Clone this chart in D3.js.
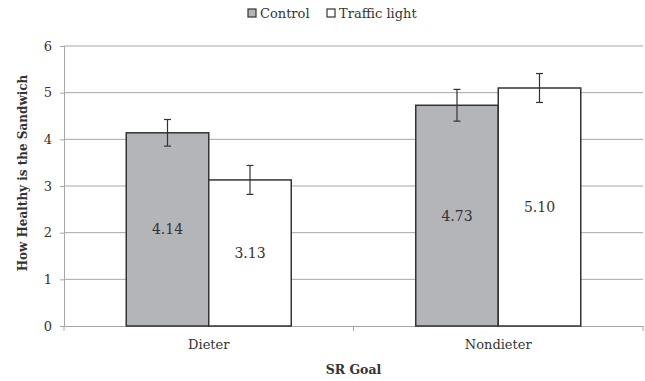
<!DOCTYPE html>
<html>
<head>
<meta charset="utf-8">
<script src="https://cdn.jsdelivr.net/npm/d3@7"></script>
<style>
  html, body { margin: 0; padding: 0; background: #fff; }
  svg { display: block; }
  svg text { font-family: "DejaVu Serif", serif !important; fill: #333; }
</style>
</head>
<body>
<svg id="chart" width="645" height="381"></svg>
<script>
// Chart data
const categories = ["Dieter", "Nondieter"];
const seriesNames = ["Control", "Traffic light"];
const controlValues = [4.14, 4.73];
const trafficValues = [3.13, 5.10];
const controlErrors = [0.285, 0.34];
const trafficErrors = [0.31, 0.31];
const yTicks = [0, 1, 2, 3, 4, 5, 6];
const xTitle = "SR Goal";
const yTitle = "How Healthy is the Sandwich";

const colors = { "Control": "#b4b5b9", "Traffic light": "#ffffff" };

const svg = d3.select("#chart");
const margin = { top: 46, right: 2, bottom: 55, left: 64 };
const W = 645, H = 381;
const innerW = W - margin.left - margin.right;
const innerH = H - margin.top - margin.bottom;

const g = svg.append("g").attr("transform", `translate(${margin.left},${margin.top})`);

const x0 = d3.scaleBand().domain(categories).range([0, innerW]).paddingInner(0).paddingOuter(0);
const groupW = x0.bandwidth() * 0.57;
const x1 = d3.scaleBand().domain(seriesNames).range([0, groupW]).padding(0);
const y = d3.scaleLinear().domain([0, 6]).range([innerH, 0]);

// Horizontal gridlines
g.append("g").selectAll("line").data(yTicks.slice(1)).join("line")
  .attr("x1", 0).attr("x2", innerW)
  .attr("y1", d => y(d)).attr("y2", d => y(d))
  .attr("stroke", "#a6a6a6").attr("stroke-width", 1);

// Y axis
const yAxis = g.append("g")
  .call(d3.axisLeft(y).tickValues(yTicks).tickFormat(d3.format("d")).tickSize(4).tickPadding(8));
yAxis.select(".domain").attr("stroke", "#a6a6a6");
yAxis.selectAll(".tick line").attr("stroke", "#a6a6a6");
yAxis.selectAll(".tick text").style("font-size", "13px").attr("fill", "#333");

// X axis
const xAxis = g.append("g").attr("transform", `translate(0,${innerH})`)
  .call(d3.axisBottom(x0).tickSize(0).tickPadding(14));
xAxis.select(".domain").attr("stroke", "#a6a6a6");
xAxis.selectAll(".tick text").style("font-size", "13px").attr("fill", "#333");
// Category separator tick marks
g.append("g").selectAll("line").data([0, x0.bandwidth(), innerW]).join("line")
  .attr("x1", d => d).attr("x2", d => d)
  .attr("y1", innerH).attr("y2", innerH + 5)
  .attr("stroke", "#a6a6a6");

const rows = categories.map((c, i) => ({
  cat: c,
  items: [
    { s: "Control", v: controlValues[i], e: controlErrors[i] },
    { s: "Traffic light", v: trafficValues[i], e: trafficErrors[i] }
  ]
}));

const groups = g.selectAll(".grp").data(rows).join("g")
  .attr("transform", d => `translate(${x0(d.cat) + (x0.bandwidth() - groupW) / 2},0)`);

const bars = groups.selectAll(".bar").data(d => d.items).join("g");

bars.append("rect")
  .attr("x", d => x1(d.s))
  .attr("y", d => y(d.v))
  .attr("width", x1.bandwidth())
  .attr("height", d => y(0) - y(d.v))
  .attr("fill", d => colors[d.s])
  .attr("stroke", "#333")
  .attr("stroke-width", 1.5);

// Value labels centred in the bar
bars.append("text")
  .attr("x", d => x1(d.s) + x1.bandwidth() / 2)
  .attr("y", d => (y(d.v) + y(0)) / 2)
  .attr("dy", "0.35em")
  .attr("text-anchor", "middle")
  .style("font-size", "14px")
  .text(d => d.v.toFixed(2));

// Error bars
const cap = 3.5;
bars.each(function(d) {
  const b = d3.select(this);
  const cx = x1(d.s) + x1.bandwidth() / 2;
  const yt = y(d.v + d.e), yb = y(d.v - d.e);
  b.append("line").attr("x1", cx).attr("x2", cx).attr("y1", yt).attr("y2", yb).attr("stroke", "#333").attr("stroke-width", 1.2);
  b.append("line").attr("x1", cx - cap).attr("x2", cx + cap).attr("y1", yt).attr("y2", yt).attr("stroke", "#333").attr("stroke-width", 1.2);
  b.append("line").attr("x1", cx - cap).attr("x2", cx + cap).attr("y1", yb).attr("y2", yb).attr("stroke", "#333").attr("stroke-width", 1.2);
});

// Axis titles
svg.append("text")
  .attr("x", margin.left + x0.bandwidth()).attr("y", 374)
  .attr("text-anchor", "middle")
  .style("font-size", "12.5px").style("font-weight", "bold")
  .text(xTitle);

svg.append("text")
  .attr("transform", `translate(27,${margin.top + innerH / 2 - 13}) rotate(-90)`)
  .attr("text-anchor", "middle")
  .style("font-size", "12px").style("font-weight", "bold")
  .text(yTitle);

// Legend
const legend = svg.append("g").attr("transform", "translate(248,9)");
const legendX = [0, 79];
seriesNames.forEach((s, i) => {
  const lg = legend.append("g").attr("transform", `translate(${legendX[i]},0)`);
  lg.append("rect").attr("x", 0).attr("y", 0).attr("width", 8).attr("height", 8)
    .attr("fill", colors[s]).attr("stroke", "#333").attr("stroke-width", 1.2);
  lg.append("text").attr("x", 12).attr("y", 4).attr("dy", "0.35em")
    .style("font-size", "13px").text(s);
});
</script>
</body>
</html>
